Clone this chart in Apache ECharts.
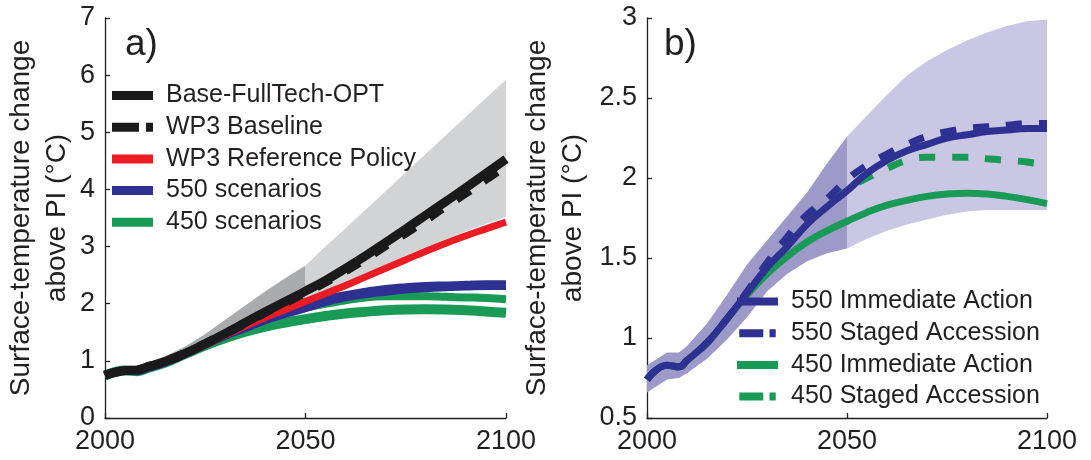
<!DOCTYPE html>
<html>
<head>
<meta charset="utf-8">
<script src="https://cdn.jsdelivr.net/npm/echarts@6/dist/echarts.min.js"></script>
<style>
  html, body { margin: 0; padding: 0; background: #fff; }
  #chart { width: 1091px; height: 460px; }
</style>
</head>
<body>
<div id="chart"></div>
<script>
// Sample years shared by every curve
const YEARS = [2000, 2005, 2008, 2010, 2015, 2020, 2025, 2030, 2035, 2040, 2045,
               2050, 2055, 2060, 2065, 2070, 2075, 2080, 2085, 2090, 2095, 2100];

// Panel a: baseline and reference-policy temperature paths (°C above PI)
const BASE_FULLTECH_OPT = [0.75, 0.83, 0.84, 0.88, 0.99, 1.13, 1.30, 1.48, 1.67, 1.86, 2.04,
                           2.22, 2.41, 2.62, 2.84, 3.07, 3.31, 3.55, 3.79, 4.03, 4.28, 4.53];
const WP3_BASELINE      = [0.75, 0.83, 0.84, 0.88, 0.99, 1.13, 1.30, 1.48, 1.66, 1.85, 2.02,
                           2.20, 2.38, 2.58, 2.79, 3.02, 3.24, 3.47, 3.71, 3.94, 4.18, 4.42];
const WP3_REFERENCE     = [0.75, 0.83, 0.84, 0.88, 0.99, 1.12, 1.28, 1.45, 1.61, 1.76, 1.90,
                           2.04, 2.18, 2.32, 2.47, 2.62, 2.77, 2.92, 3.06, 3.19, 3.31, 3.43];
// Panel a: uncertainty range of the baseline
const RANGE_A_UPPER     = [0.78, 0.88, 0.90, 0.95, 1.08, 1.25, 1.47, 1.72, 1.97, 2.22, 2.45,
                           2.67, 3.00, 3.32, 3.65, 3.97, 4.30, 4.62, 4.95, 5.27, 5.60, 5.92];
const RANGE_A_LOWER     = [0.72, 0.78, 0.80, 0.83, 0.93, 1.06, 1.22, 1.40, 1.57, 1.74, 1.91,
                           2.08, 2.23, 2.38, 2.53, 2.68, 2.84, 2.99, 3.13, 3.27, 3.40, 3.52];

// Stabilisation scenarios (used in both panels)
const IMMEDIATE_550     = [0.74, 0.83, 0.82, 0.86, 0.97, 1.12, 1.28, 1.44, 1.57, 1.71, 1.82,
                           1.92, 2.03, 2.11, 2.17, 2.21, 2.25, 2.27, 2.29, 2.30, 2.31, 2.31];
const STAGED_550        = [0.74, 0.83, 0.82, 0.86, 0.97, 1.12, 1.29, 1.47, 1.63, 1.77, 1.87,
                           1.99, 2.08, 2.15, 2.21, 2.26, 2.29, 2.31, 2.32, 2.33, 2.34, 2.34];
const IMMEDIATE_450     = [0.74, 0.83, 0.82, 0.86, 0.97, 1.12, 1.27, 1.40, 1.51, 1.60, 1.67,
                           1.73, 1.785, 1.83, 1.86, 1.885, 1.90, 1.905, 1.90, 1.885, 1.865, 1.84];
const STAGED_450        = [0.74, 0.83, 0.82, 0.86, 0.97, 1.12, 1.28, 1.45, 1.60, 1.74, 1.84,
                           1.93, 2.00, 2.06, 2.11, 2.13, 2.13, 2.13, 2.12, 2.11, 2.10, 2.08];
// Panel b: uncertainty range of the 550 immediate-action path
const RANGE_B_UPPER     = [0.83, 0.91, 0.91, 0.95, 1.09, 1.27, 1.46, 1.61, 1.76, 1.91, 2.09,
                           2.26, 2.39, 2.52, 2.64, 2.73, 2.80, 2.86, 2.91, 2.95, 2.98, 2.99];
const RANGE_B_LOWER     = [0.66, 0.74, 0.75, 0.78, 0.87, 0.99, 1.13, 1.29, 1.40, 1.48, 1.53,
                           1.56, 1.62, 1.67, 1.71, 1.74, 1.77, 1.79, 1.80, 1.80, 1.80, 1.80];

// Range segments: [first year, last year] (darker before 2050, lighter after)
const RANGE_SEGMENTS = [[2000, 2050], [2050, 2100]];

const X_TICKS = [2000, 2050, 2100];
const Y_TICKS_A = [0, 1, 2, 3, 4, 5, 6, 7];
const Y_TICKS_B = [0.5, 1, 1.5, 2, 2.5, 3];

const FONT = "'Liberation Sans', Arial, Helvetica, sans-serif";
const INK = '#231f20';
const BLACK = '#1a1a1a';
const RED = '#ec1c24';
const NAVY = '#2e3192';
const GREEN = '#1a9a57';
const DASH_ICON = 'path://M0,0H27V9H0Z M34,0H41V9H34Z';
const YNAME = 'Surface-temperature change\nabove PI (°C)';

const pairs = (ys) => YEARS.map((x, i) => [x, ys[i]]);

function rangeSeries(axisIdx, upper, lower, colors) {
  return {
    type: 'custom',
    xAxisIndex: axisIdx,
    yAxisIndex: axisIdx,
    silent: true,
    z: 1,
    data: RANGE_SEGMENTS,
    encode: { x: [0, 1] },
    renderItem: function (params, api) {
      const from = api.value(0), to = api.value(1);
      const top = [], bottom = [];
      YEARS.forEach(function (yr, i) {
        if (yr >= from && yr <= to) {
          top.push(api.coord([yr, upper[i]]));
          bottom.push(api.coord([yr, lower[i]]));
        }
      });
      return {
        type: 'polygon',
        shape: { points: top.concat(bottom.reverse()) },
        style: { fill: colors[params.dataIndex] }
      };
    }
  };
}

function line(axisIdx, name, ys, color, width, dashed) {
  return {
    type: 'line',
    name: name,
    xAxisIndex: axisIdx,
    yAxisIndex: axisIdx,
    data: pairs(ys),
    color: color,
    showSymbol: false,
    symbol: 'none',
    smooth: 0.45,
    silent: true,
    z: 3,
    lineStyle: { color: color, width: width, type: dashed ? [16, 17] : 'solid', cap: 'butt' }
  };
}

function xAxis(grid) {
  return {
    type: 'value', gridIndex: grid, min: 2000, max: 2100, interval: 50,
    axisLine: { lineStyle: { color: INK, width: 1.3 } },
    axisTick: { inside: true, length: 5, lineStyle: { color: INK, width: 1.3 } },
    axisLabel: {
      margin: 10, fontSize: 27, color: INK, fontFamily: FONT,
      formatter: (v) => (X_TICKS.indexOf(v) >= 0 ? String(v) : '')
    },
    splitLine: { show: false }
  };
}

function yAxis(grid, min, max, step, ticks, gap) {
  return {
    type: 'value', gridIndex: grid, min: min, max: max, interval: step,
    name: YNAME, nameLocation: 'middle', nameRotate: 90, nameGap: gap,
    nameTextStyle: { fontSize: 28, lineHeight: 36, color: INK, fontFamily: FONT },
    axisLine: { show: true, lineStyle: { color: INK, width: 1.3 } },
    axisTick: { show: true, inside: true, length: 5, lineStyle: { color: INK, width: 1.3 } },
    axisLabel: {
      margin: 10, fontSize: 27, color: INK, fontFamily: FONT,
      formatter: (v) => (ticks.some((t) => Math.abs(t - v) < 1e-9) ? String(v) : '')
    },
    splitLine: { show: false }
  };
}

const legendText = { fontSize: 25, lineHeight: 25, color: INK, fontFamily: FONT, padding: [0, 0, 0, 8] };

const option = {
  animation: false,
  backgroundColor: '#fff',
  title: [
    { text: 'a)', left: 125, top: 26, padding: 0,
      textStyle: { fontSize: 37, fontWeight: 'normal', color: INK, fontFamily: FONT } },
    { text: 'b)', left: 664, top: 26, padding: 0,
      textStyle: { fontSize: 37, fontWeight: 'normal', color: INK, fontFamily: FONT } }
  ],
  grid: [
    { left: 105, right: 585, top: 18, bottom: 42 },
    { left: 647, right: 44, top: 18, bottom: 42 }
  ],
  xAxis: [xAxis(0), xAxis(1)],
  yAxis: [
    yAxis(0, 0, 7, 1, Y_TICKS_A, 30),
    yAxis(1, 0.5, 3, 0.5, Y_TICKS_B, 56)
  ],
  legend: [
    {
      left: 112, top: 83, orient: 'vertical', padding: 0, itemGap: 6.7,
      itemWidth: 41, itemHeight: 9, selectedMode: false,
      itemStyle: { borderWidth: 0 },
      textStyle: legendText,
      data: [
        { name: 'Base-FullTech-OPT', icon: 'rect' },
        { name: 'WP3 Baseline', icon: DASH_ICON },
        { name: 'WP3 Reference Policy', icon: 'rect' },
        { name: '550 scenarios', icon: 'rect' },
        { name: '450 scenarios', icon: 'rect' }
      ]
    },
    {
      left: 737, top: 289, orient: 'vertical', padding: 0, itemGap: 6.7,
      itemWidth: 41, itemHeight: 8, selectedMode: false,
      itemStyle: { borderWidth: 0 },
      textStyle: legendText,
      data: [
        { name: '550 Immediate Action', icon: 'rect' },
        { name: '550 Staged Accession', icon: DASH_ICON },
        { name: '450 Immediate Action', icon: 'rect' },
        { name: '450 Staged Accession', icon: DASH_ICON }
      ]
    }
  ],
  series: [
    // Panel a
    rangeSeries(0, RANGE_A_UPPER, RANGE_A_LOWER, ['#a9abae', '#d2d3d5']),
    line(0, '450 scenarios', IMMEDIATE_450, GREEN, 10, false),
    line(0, '450 scenarios', STAGED_450, GREEN, 8, false),
    line(0, '550 scenarios', IMMEDIATE_550, NAVY, 8, false),
    line(0, '550 scenarios', STAGED_550, NAVY, 8, false),
    line(0, 'WP3 Reference Policy', WP3_REFERENCE, RED, 7, false),
    line(0, 'Base-FullTech-OPT', BASE_FULLTECH_OPT, BLACK, 9, false),
    line(0, 'WP3 Baseline', WP3_BASELINE, BLACK, 9, true),
    // Panel b
    rangeSeries(1, RANGE_B_UPPER, RANGE_B_LOWER, ['#9d99c9', '#c9c7e3']),
    line(1, '450 Immediate Action', IMMEDIATE_450, GREEN, 7, false),
    line(1, '450 Staged Accession', STAGED_450, GREEN, 7, true),
    line(1, '550 Immediate Action', IMMEDIATE_550, NAVY, 7, false),
    line(1, '550 Staged Accession', STAGED_550, NAVY, 7, true)
  ]
};

const chart = echarts.init(document.getElementById('chart'), null, { renderer: 'canvas' });
chart.setOption(option);
</script>
</body>
</html>
